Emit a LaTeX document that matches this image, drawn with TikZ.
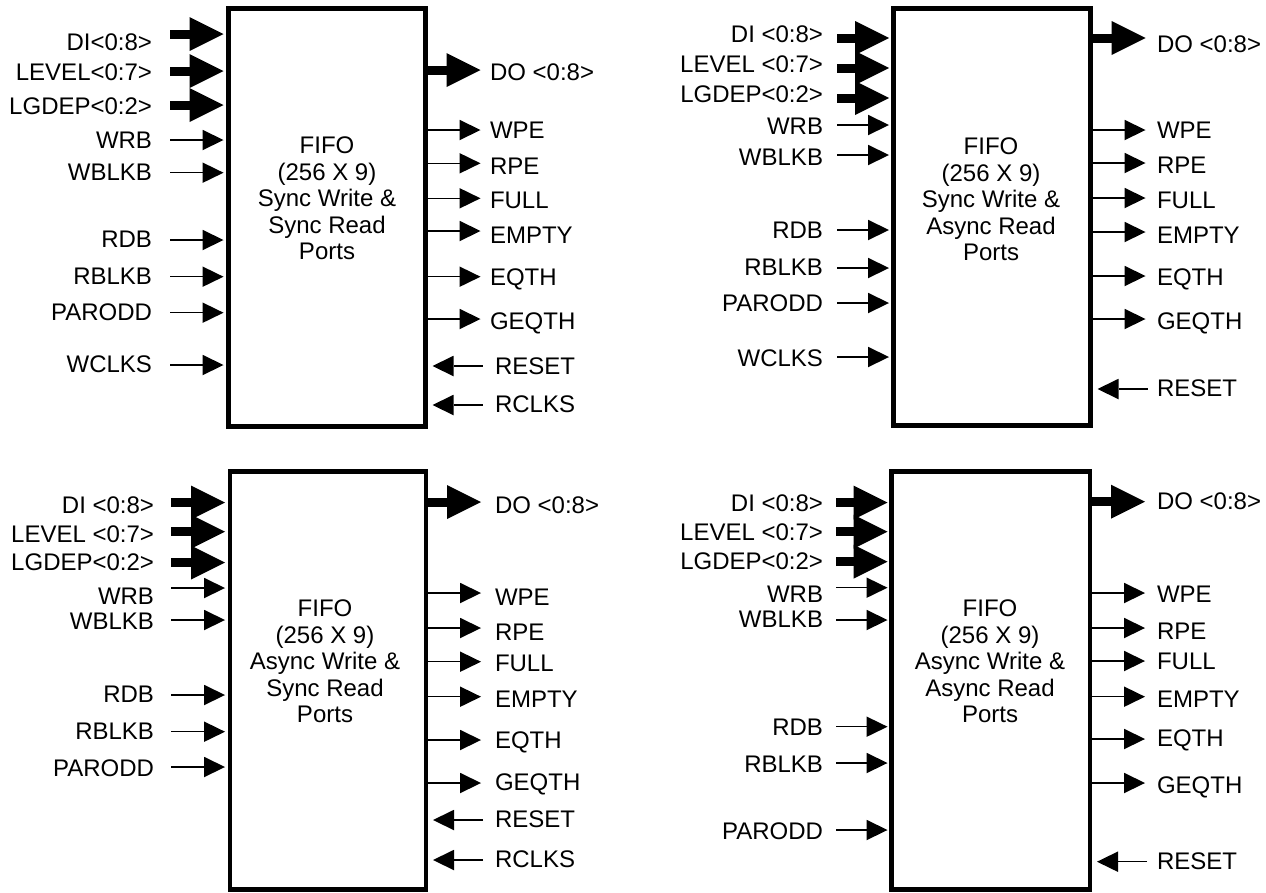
\documentclass[tikz,border=0pt]{standalone}
\usepackage{fontspec}
\setmainfont{Liberation Sans}
\usetikzlibrary{arrows.meta}
\tikzset{
  lab/.style={font=\fontsize{24}{26.5}\selectfont, inner sep=0pt, outer sep=0pt},
  fifobox/.style={draw, line width=4.5pt, rectangle, inner sep=0pt, outer sep=0pt, line join=miter},
  fifotext/.style={font=\fontsize{24}{26.5}\selectfont, align=center, inner sep=0pt},
  thinarr/.style={line width=1.1pt, -{Triangle[length=21pt,width=20.5pt,line width=0pt]}},
  thickarr/.style={line width=9pt, -{Triangle[length=34pt,width=34pt,line width=0pt]}},
}
% left input pin: name, style, text, label centre y, arrow y
\newcommand\lpin[5]{%
  \node[lab,anchor=base east] (#1) at (\labR,#4+8.6) {#3};
  \coordinate (#1s) at (\stL,#5);
  \coordinate (#1t) at (\tipL,#5);
  \draw[#2] (#1s) -- (#1t);}
% right output pin
\newcommand\rpin[5]{%
  \node[lab,anchor=base west] (#1) at (\labRR,#4+8.6) {#3};
  \coordinate (#1s) at (\boxR,#5);
  \coordinate (#1t) at (\boxR+55,#5);
  \draw[#2] (#1s) -- (#1t);}
% right input pin
\newcommand\ripin[4]{%
  \node[lab,anchor=base west] (#1) at (\labRI,#3+8.6) {#2};
  \coordinate (#1s) at (\boxR+57,#4);
  \coordinate (#1t) at (\boxR+7,#4);
  \draw[thinarr] (#1s) -- (#1t);}
\begin{document}
\begin{tikzpicture}[x=1pt,y=-1pt]
\useasboundingbox (0,0) rectangle (1266,892);

% ---------------- Panel 1 ----------------
\node[fifobox, minimum width=197pt, minimum height=418pt] (b1) at (327,217.5) {};
\node[fifotext] (t1) at (327,198.5) {FIFO\\(256 X 9)\\Sync Write \&\\Sync Read\\Ports};
\def\labR{152}\def\stL{170}\def\tipL{223.5}\def\boxR{425.5}\def\labRR{490}\def\labRI{495}
\lpin{di1}{thickarr}{DI<0:8>}{42}{34}
\lpin{lv1}{thickarr}{LEVEL<0:7>}{72}{71}
\lpin{lg1}{thickarr}{LGDEP<0:2>}{106}{105}
\lpin{wrb1}{thinarr}{WRB}{139.5}{140}
\lpin{wbl1}{thinarr}{WBLKB}{172}{172.7}
\lpin{rdb1}{thinarr}{RDB}{239}{240}
\lpin{rbl1}{thinarr}{RBLKB}{276}{276.7}
\lpin{par1}{thinarr}{PARODD}{312}{312.7}
\lpin{wcl1}{thinarr}{WCLKS}{364}{365}
\rpin{do1}{thickarr}{DO <0:8>}{71.7}{70}
\rpin{wpe1}{thinarr}{WPE}{130}{130}
\rpin{rpe1}{thinarr}{RPE}{166}{163.3}
\rpin{ful1}{thinarr}{FULL}{200}{198.3}
\rpin{emp1}{thinarr}{EMPTY}{235}{231}
\rpin{eqt1}{thinarr}{EQTH}{277}{276.7}
\rpin{geq1}{thinarr}{GEQTH}{321}{319}
\ripin{res1}{RESET}{365.5}{366}
\ripin{rck1}{RCLKS}{404}{405}

% ---------------- Panel 2 ----------------
\node[fifobox, minimum width=197pt, minimum height=417pt] (b2) at (992,217) {};
\node[fifotext] (t2) at (991,199.5) {FIFO\\(256 X 9)\\Sync Write \&\\Async Read\\Ports};
\def\labR{823}\def\stL{837}\def\tipL{889}\def\boxR{1090.5}\def\labRR{1157}\def\labRI{1157}
\lpin{di2}{thickarr}{DI <0:8>}{34}{38}
\lpin{lv2}{thickarr}{LEVEL <0:7>}{64}{68}
\lpin{lg2}{thickarr}{LGDEP<0:2>}{94}{98}
\lpin{wrb2}{thinarr}{WRB}{126}{125}
\lpin{wbl2}{thinarr}{WBLKB}{157}{155}
\lpin{rdb2}{thinarr}{RDB}{230}{230}
\lpin{rbl2}{thinarr}{RBLKB}{267}{268}
\lpin{par2}{thinarr}{PARODD}{303}{303}
\lpin{wcl2}{thinarr}{WCLKS}{358}{357}
\rpin{do2}{thickarr}{DO <0:8>}{44}{38}
\rpin{wpe2}{thinarr}{WPE}{130}{130}
\rpin{rpe2}{thinarr}{RPE}{165}{163}
\rpin{ful2}{thinarr}{FULL}{200}{198}
\rpin{emp2}{thinarr}{EMPTY}{235}{232}
\rpin{eqt2}{thinarr}{EQTH}{277}{276}
\rpin{geq2}{thinarr}{GEQTH}{321}{319}
\ripin{res2}{RESET}{388}{389}

% ---------------- Panel 3 ----------------
\node[fifobox, minimum width=196pt, minimum height=418pt] (b3) at (328,680.5) {};
\node[fifotext] (t3) at (325,661.5) {FIFO\\(256 X 9)\\Async Write \&\\Sync Read\\Ports};
\def\labR{154}\def\stL{171}\def\tipL{225}\def\boxR{426}\def\labRR{495}\def\labRI{495}
\lpin{di3}{thickarr}{DI <0:8>}{505}{502.5}
\lpin{lv3}{thickarr}{LEVEL <0:7>}{534}{531.7}
\lpin{lg3}{thickarr}{LGDEP<0:2>}{562}{562.5}
\lpin{wrb3}{thinarr}{WRB}{596}{588}
\lpin{wbl3}{thinarr}{WBLKB}{621}{620}
\lpin{rdb3}{thinarr}{RDB}{694}{695}
\lpin{rbl3}{thinarr}{RBLKB}{731}{731.7}
\lpin{par3}{thinarr}{PARODD}{767.5}{767}
\rpin{do3}{thickarr}{DO <0:8>}{505}{502}
\rpin{wpe3}{thinarr}{WPE}{597}{593}
\rpin{rpe3}{thinarr}{RPE}{632}{628}
\rpin{ful3}{thinarr}{FULL}{663}{661.7}
\rpin{emp3}{thinarr}{EMPTY}{699}{696.7}
\rpin{eqt3}{thinarr}{EQTH}{740}{740}
\rpin{geq3}{thinarr}{GEQTH}{782}{783}
\ripin{res3}{RESET}{819}{820}
\ripin{rck3}{RCLKS}{859}{860}

% ---------------- Panel 4 ----------------
\node[fifobox, minimum width=198.5pt, minimum height=418pt] (b4) at (990.75,680.5) {};
\node[fifotext] (t4) at (990,661.5) {FIFO\\(256 X 9)\\Async Write \&\\Async Read\\Ports};
\def\labR{823}\def\stL{836}\def\tipL{887.5}\def\boxR{1090}\def\labRR{1157}\def\labRI{1157}
\lpin{di4}{thickarr}{DI <0:8>}{502.5}{502.5}
\lpin{lv4}{thickarr}{LEVEL <0:7>}{532}{531.7}
\lpin{lg4}{thickarr}{LGDEP<0:2>}{561}{561.7}
\lpin{wrb4}{thinarr}{WRB}{594}{587.7}
\lpin{wbl4}{thinarr}{WBLKB}{618.5}{620}
\lpin{rdb4}{thinarr}{RDB}{727}{726.7}
\lpin{rbl4}{thinarr}{RBLKB}{764}{763}
\lpin{par4}{thinarr}{PARODD}{831}{830}
\rpin{do4}{thickarr}{DO <0:8>}{501}{501.7}
\rpin{wpe4}{thinarr}{WPE}{594}{593}
\rpin{rpe4}{thinarr}{RPE}{631}{628}
\rpin{ful4}{thinarr}{FULL}{661}{661}
\rpin{emp4}{thinarr}{EMPTY}{699}{696.7}
\rpin{eqt4}{thinarr}{EQTH}{737.5}{739}
\rpin{geq4}{thinarr}{GEQTH}{785}{783}
\ripin{res4}{RESET}{861}{861.7}
\end{tikzpicture}
\end{document}
